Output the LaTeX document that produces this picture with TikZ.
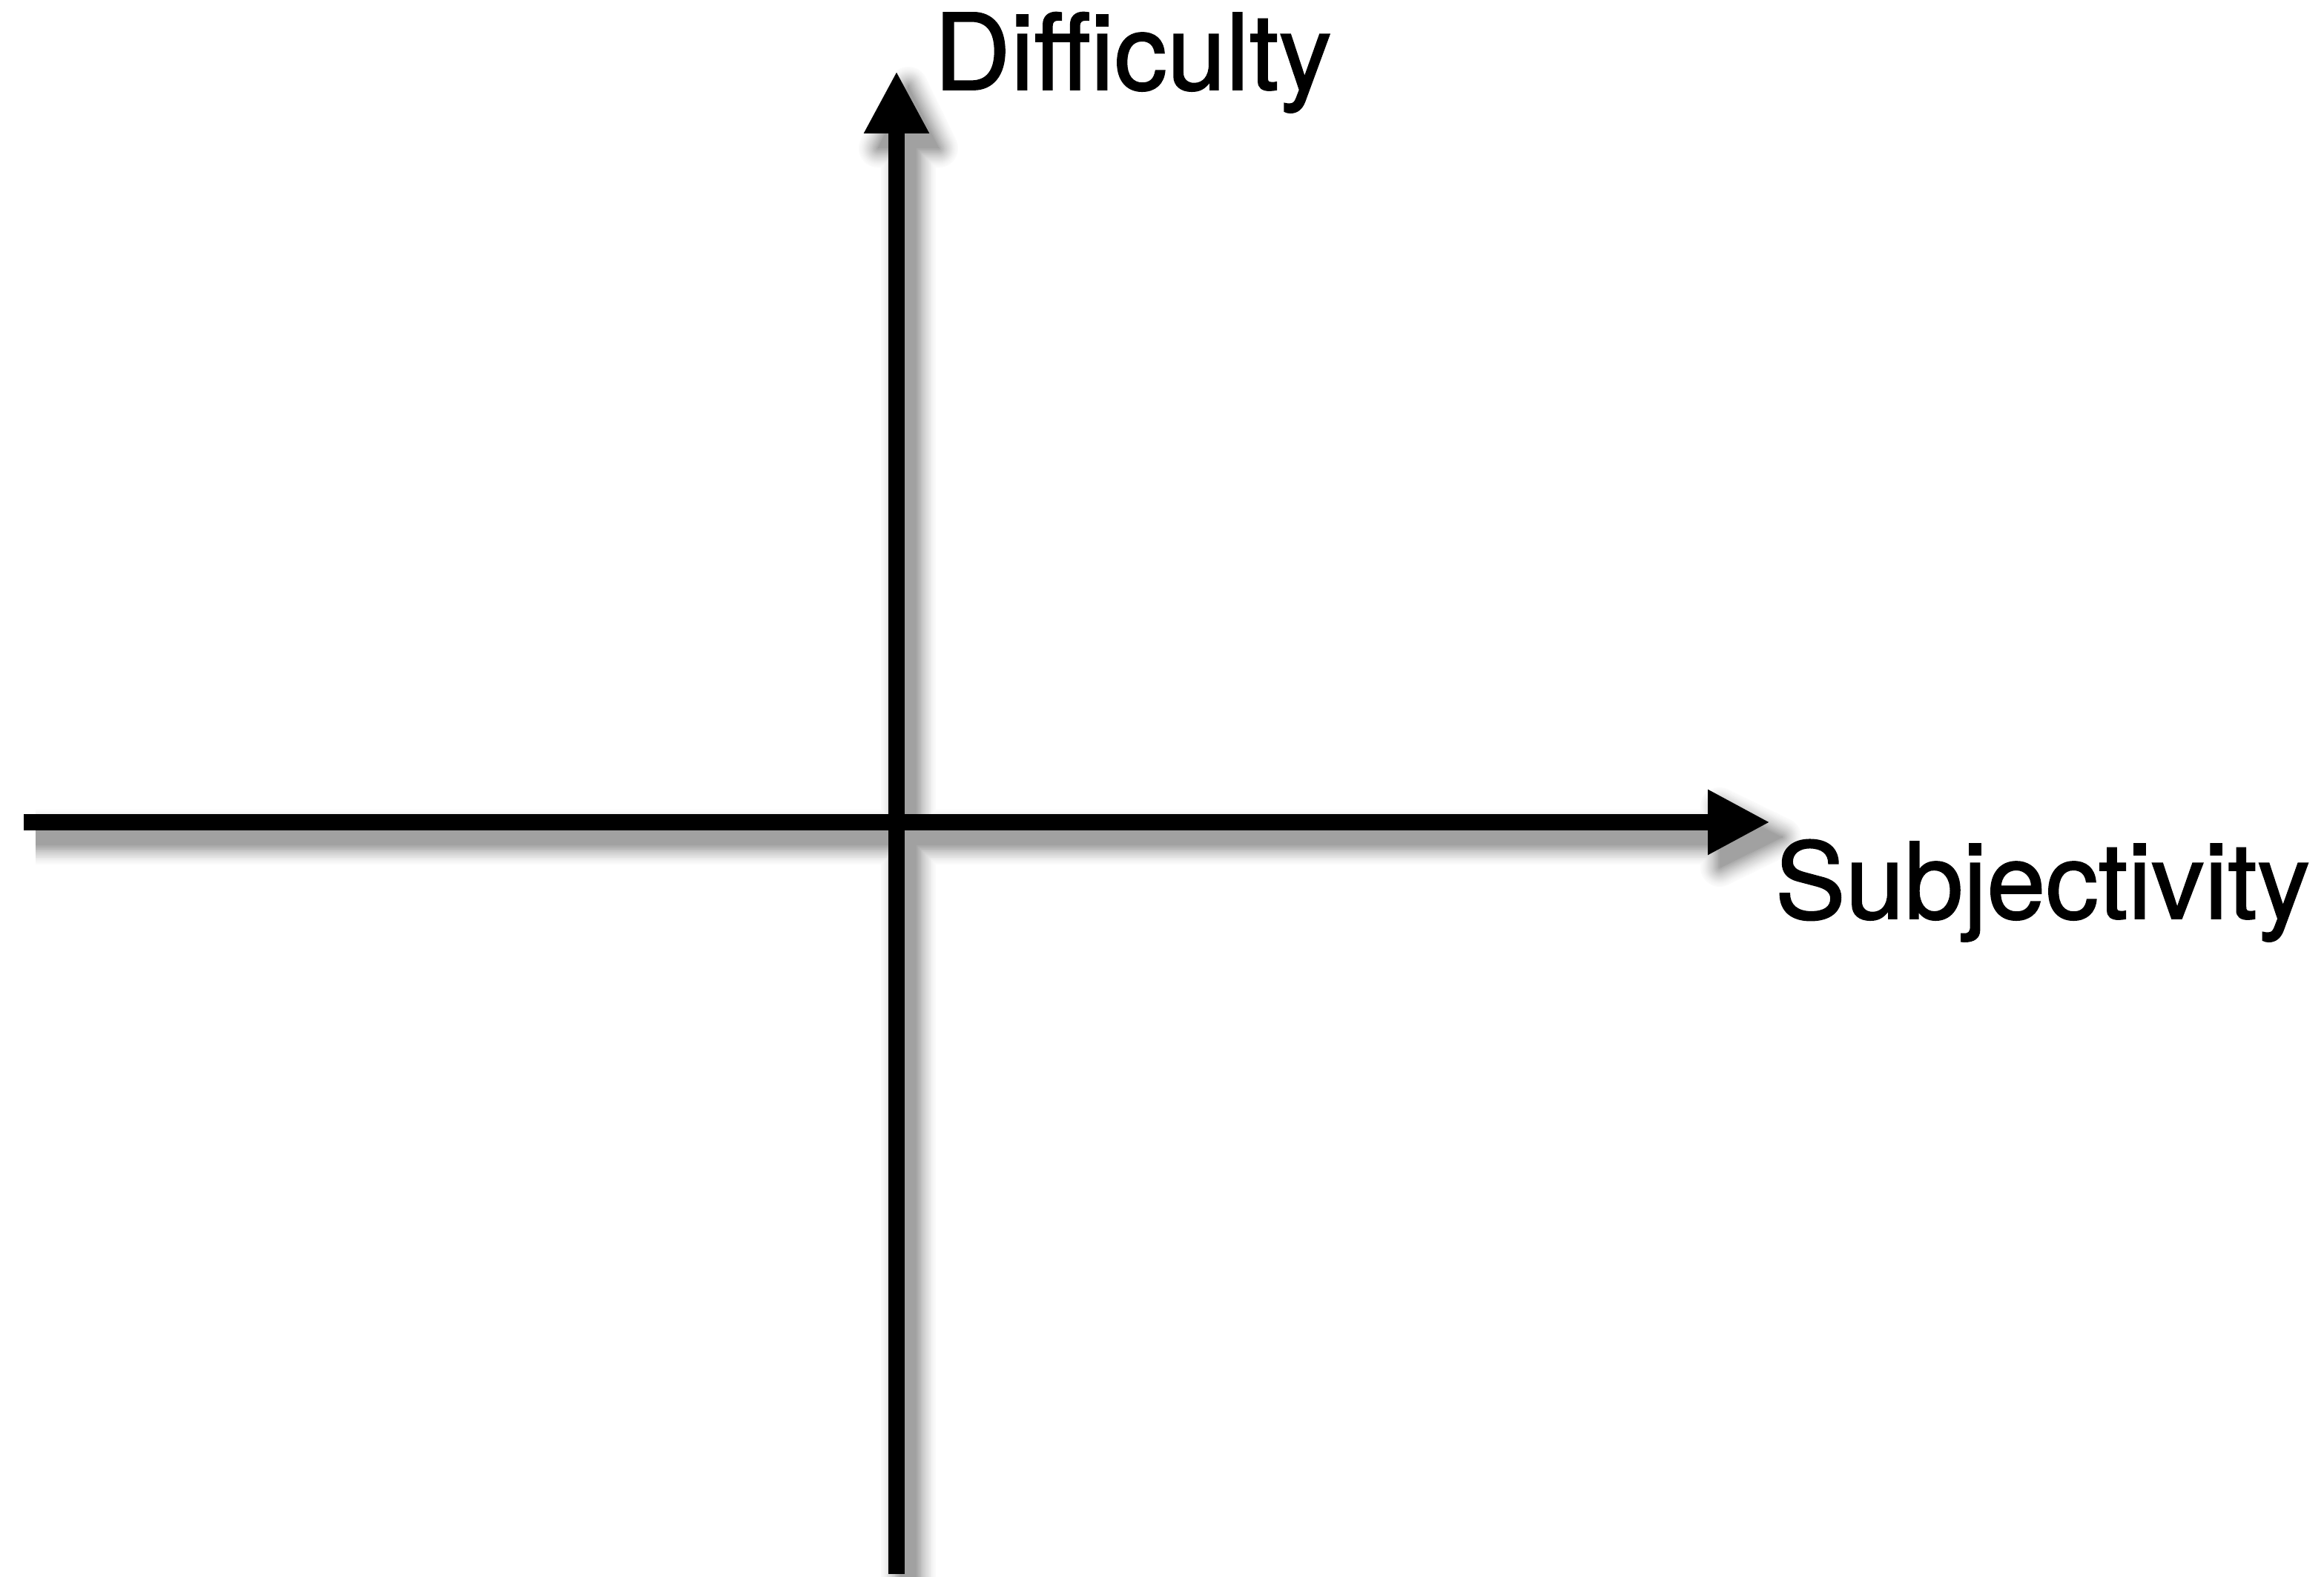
\documentclass[tikz,border=0pt]{standalone}
\usepackage{fontspec}
\setmainfont{TeX Gyre Heros}[UprightFeatures={FakeBold=1.3}]
\usetikzlibrary{arrows.meta}
\tikzset{
  axis/.style={line width=0.22cm, black, -{Triangle[length=0.84cm,width=0.82cm]}},
  axislabel/.style={anchor=base west, inner sep=0pt, font=\fontsize{40.6}{48}\selectfont}
}
\begin{document}
\begin{tikzpicture}
\useasboundingbox[fill=white] (0,0) rectangle (31.34,21.27);
\coordinate (xl) at (0.32,10.18);
\coordinate (xr) at (23.87,10.18);
\coordinate (yb) at (12.09,0.04);
\coordinate (yt) at (12.09,20.31);
% blurred drop shadow
\foreach \i in {0,...,14}{
  \pgfmathsetmacro{\w}{0.22+0.037*(14-\i)}
  \pgfmathsetmacro{\c}{2+35*(\i/14)^1.3}
  \draw[line width=\w cm, black!\c] ([shift={(0.16,-0.2)}]xl) -- ([shift={(-0.84+0.16,-0.2)}]xr);
  \draw[line width=\w cm, black!\c] ([shift={(0.16,-0.2)}]yb) -- ([shift={(0.16,-0.84-0.2)}]yt);
  \filldraw[line width=\w cm-0.22cm, line join=round, black!\c]
    ([shift={(0.16,-0.2)}]xr) -- ([shift={(-0.84+0.16,0.41-0.2)}]xr) -- ([shift={(-0.84+0.16,-0.41-0.2)}]xr) -- cycle;
  \filldraw[line width=\w cm-0.22cm, line join=round, black!\c]
    ([shift={(0.16,-0.2)}]yt) -- ([shift={(0.41+0.16,-0.84-0.2)}]yt) -- ([shift={(-0.41+0.16,-0.84-0.2)}]yt) -- cycle;
}
% axes
\draw[axis] (xl) -- (xr);
\draw[axis] (yb) -- (yt);
% labels
\node[axislabel] (dlab) at (12.59,20.06) {Difficulty};
\node[axislabel] (slab) at (23.93,8.88) {Subjectivity};
\end{tikzpicture}
\end{document}
